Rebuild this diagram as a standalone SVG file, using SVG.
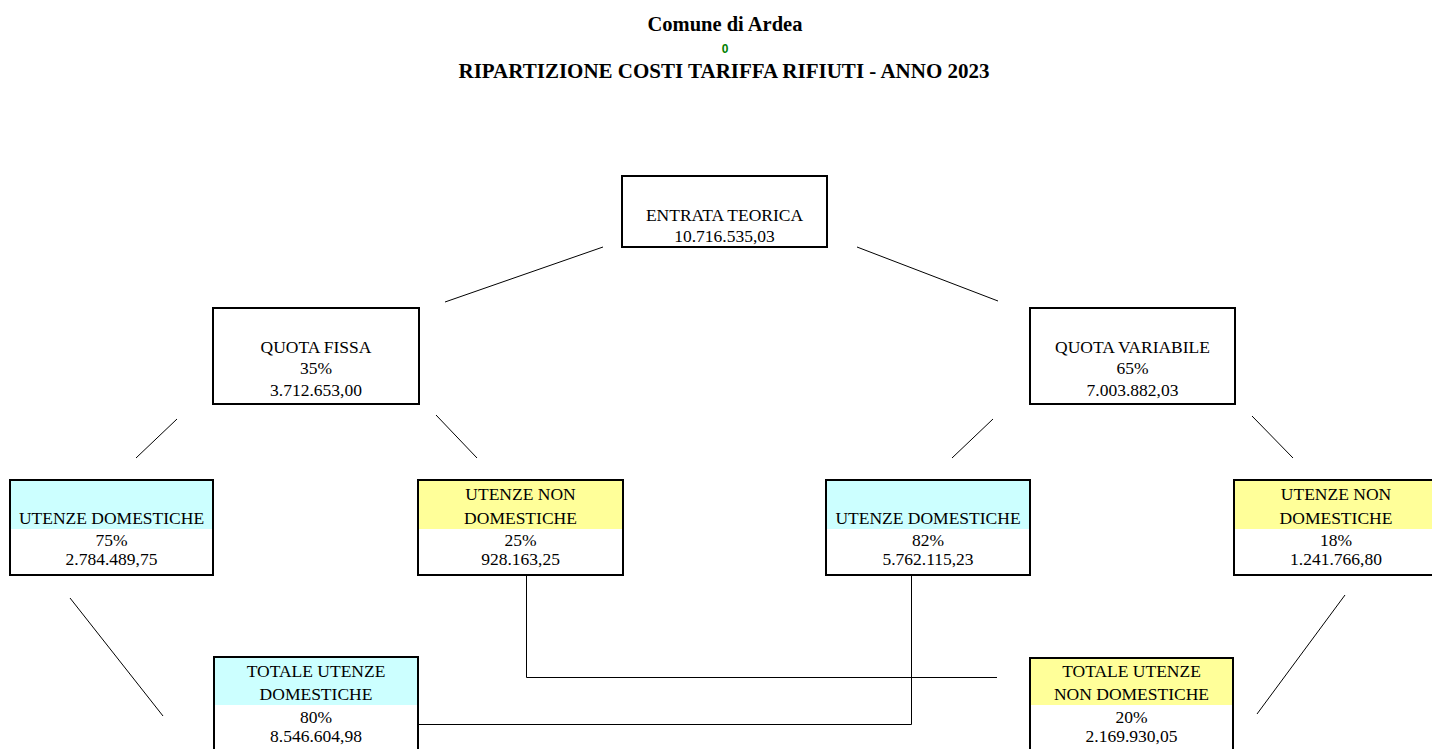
<svg xmlns="http://www.w3.org/2000/svg" width="1432" height="749" viewBox="0 0 1432 749">
<style>
.box{fill:none;stroke:#000;stroke-width:2}
.bg{fill:#fff}
.cy{fill:#ccffff}
.ye{fill:#ffff99}
.t{font-family:"Liberation Serif","Times New Roman",serif;font-size:17.5px;fill:#000;text-anchor:middle}
.h{font-family:"Liberation Serif","Times New Roman",serif;font-size:21px;font-weight:bold;fill:#000;text-anchor:middle}
.z{font-family:"Liberation Sans",Arial,sans-serif;font-size:12px;font-weight:bold;fill:#008000;text-anchor:middle}
.c{stroke:#000;stroke-width:1;fill:none}
</style>
<rect width="1432" height="749" fill="#fff"/>
<g id="title">
<text class="h" x="725" y="31" style="font-size:20.5px">Comune di Ardea</text>
<text class="z" x="725" y="53">0</text>
<text class="h" x="724" y="78">RIPARTIZIONE COSTI TARIFFA RIFIUTI - ANNO 2023</text>
</g>
<g id="connectors">
<line class="c" x1="603" y1="247" x2="445" y2="302"/>
<line class="c" x1="857" y1="247" x2="998" y2="301"/>
<line class="c" x1="177" y1="419" x2="136" y2="458"/>
<line class="c" x1="436" y1="415" x2="477" y2="458"/>
<line class="c" x1="993" y1="419" x2="952" y2="458"/>
<line class="c" x1="1252" y1="416" x2="1293" y2="458"/>
<line class="c" x1="70" y1="598" x2="163" y2="716"/>
<line class="c" x1="1345" y1="595" x2="1257" y2="714"/>
<polyline class="c" points="526.5,575 526.5,677.5 997,677.5"/>
<polyline class="c" points="911.5,575 911.5,724.5 416,724.5"/>
</g>
<g id="entrata">
<rect class="bg" x="622" y="176" width="205" height="71"/>
<rect class="box" x="622" y="176" width="205" height="71"/>
<text class="t" x="724.5" y="221">ENTRATA TEORICA</text>
<text class="t" x="724.5" y="242">10.716.535,03</text>
</g>
<g id="quota-fissa">
<rect class="bg" x="213" y="308" width="206" height="96"/>
<rect class="box" x="213" y="308" width="206" height="96"/>
<text class="t" x="316" y="353">QUOTA FISSA</text>
<text class="t" x="316" y="374">35%</text>
<text class="t" x="316" y="396">3.712.653,00</text>
</g>
<g id="quota-variabile">
<rect class="bg" x="1030" y="308" width="205" height="96"/>
<rect class="box" x="1030" y="308" width="205" height="96"/>
<text class="t" x="1132.5" y="353">QUOTA VARIABILE</text>
<text class="t" x="1132.5" y="374">65%</text>
<text class="t" x="1132.5" y="396">7.003.882,03</text>
</g>
<g id="ud-fissa">
<rect class="bg" x="10" y="480" width="203" height="95"/>
<rect class="cy" x="10" y="480" width="203" height="49"/>
<rect class="box" x="10" y="480" width="203" height="95"/>
<text class="t" x="111.5" y="524">UTENZE DOMESTICHE</text>
<text class="t" x="111.5" y="546">75%</text>
<text class="t" x="111.5" y="565">2.784.489,75</text>
</g>
<g id="und-fissa">
<rect class="bg" x="418" y="480" width="205" height="95"/>
<rect class="ye" x="418" y="480" width="205" height="49"/>
<rect class="box" x="418" y="480" width="205" height="95"/>
<text class="t" x="520.5" y="500">UTENZE NON</text>
<text class="t" x="520.5" y="524">DOMESTICHE</text>
<text class="t" x="520.5" y="546">25%</text>
<text class="t" x="520.5" y="565">928.163,25</text>
</g>
<g id="ud-variabile">
<rect class="bg" x="826" y="480" width="204" height="95"/>
<rect class="cy" x="826" y="480" width="204" height="49"/>
<rect class="box" x="826" y="480" width="204" height="95"/>
<text class="t" x="928" y="524">UTENZE DOMESTICHE</text>
<text class="t" x="928" y="546">82%</text>
<text class="t" x="928" y="565">5.762.115,23</text>
</g>
<g id="und-variabile">
<rect class="bg" x="1234" y="480" width="204" height="95"/>
<rect class="ye" x="1234" y="480" width="204" height="49"/>
<rect class="box" x="1234" y="480" width="204" height="95"/>
<text class="t" x="1336" y="500">UTENZE NON</text>
<text class="t" x="1336" y="524">DOMESTICHE</text>
<text class="t" x="1336" y="546">18%</text>
<text class="t" x="1336" y="565">1.241.766,80</text>
</g>
<g id="totale-ud">
<rect class="bg" x="214" y="657" width="204" height="110"/>
<rect class="cy" x="214" y="657" width="204" height="48"/>
<rect class="box" x="214" y="657" width="204" height="110"/>
<text class="t" x="316" y="677">TOTALE UTENZE</text>
<text class="t" x="316" y="700">DOMESTICHE</text>
<text class="t" x="316" y="723">80%</text>
<text class="t" x="316" y="742">8.546.604,98</text>
</g>
<g id="totale-und">
<rect class="bg" x="1030" y="658" width="203" height="110"/>
<rect class="ye" x="1030" y="658" width="203" height="47"/>
<rect class="box" x="1030" y="658" width="203" height="110"/>
<text class="t" x="1131.5" y="677">TOTALE UTENZE</text>
<text class="t" x="1131.5" y="700">NON DOMESTICHE</text>
<text class="t" x="1131.5" y="723">20%</text>
<text class="t" x="1131.5" y="742">2.169.930,05</text>
</g>
</svg>
